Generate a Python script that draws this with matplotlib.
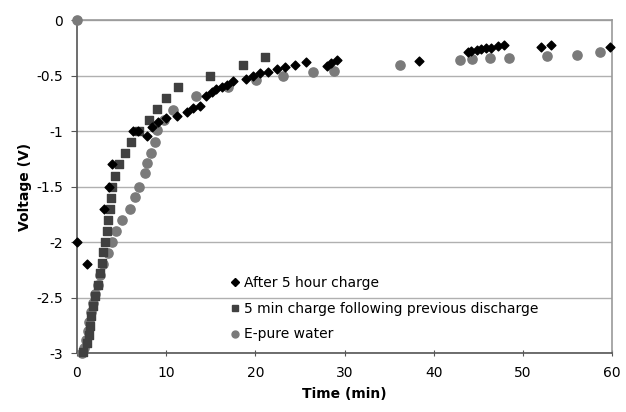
import matplotlib.pyplot as plt
from matplotlib.lines import Line2D

# After 5 hour charge (diamonds)
t_long = [0, 1.1, 3.0, 3.6, 3.95, 6.3, 6.8, 7.8, 8.4, 9.1, 10.0, 11.2, 12.3, 13.0,
          13.8, 14.5, 15.1, 15.6, 16.2, 16.8, 17.5, 19.0, 19.7, 20.5, 21.4, 22.4,
          23.3, 24.4, 25.7, 28.0, 28.5, 29.1, 38.3, 43.8, 44.2, 44.8, 45.3, 45.9,
          46.4, 47.2, 47.9, 52.0, 53.1, 59.7]
v_long = [-2.0, -2.2, -1.7, -1.5, -1.3, -1.0, -1.0, -1.04, -0.96, -0.92, -0.88, -0.86,
          -0.83, -0.79, -0.77, -0.68, -0.65, -0.62, -0.6, -0.58, -0.55, -0.53, -0.5,
          -0.48, -0.47, -0.44, -0.42, -0.4, -0.38, -0.41, -0.385, -0.36, -0.37, -0.29,
          -0.28, -0.27, -0.26, -0.255, -0.25, -0.23, -0.22, -0.24, -0.22, -0.24]

# 5 min charge following previous discharge (squares)
t_short = [0.7, 1.1, 1.3, 1.5, 1.6, 1.8, 2.0, 2.4, 2.6, 2.8, 2.95, 3.1, 3.4, 3.5, 3.7,
           3.8, 3.9, 4.3, 4.7, 5.4, 6.0, 6.9, 8.1, 9.0, 10.0, 11.3, 14.9, 18.6, 21.1]
v_short = [-2.99, -2.91, -2.84, -2.76, -2.67, -2.58, -2.49, -2.39, -2.28, -2.19, -2.09,
           -2.0, -1.9, -1.8, -1.7, -1.6, -1.5, -1.4, -1.3, -1.2, -1.1, -1.0, -0.9, -0.8,
           -0.7, -0.6, -0.5, -0.4, -0.33]

# E-pure water (circles)
t_water = [0, 0.6, 0.8, 1.0, 1.2, 1.4, 1.6, 1.8, 2.0, 2.3, 2.6, 2.95, 3.5, 3.9, 4.4,
           5.0, 5.9, 6.5, 7.0, 7.6, 7.9, 8.3, 8.7, 9.0, 9.7, 10.8, 13.3, 16.9, 20.1,
           23.1, 26.5, 28.8, 36.2, 42.9, 44.3, 46.3, 48.4, 52.7, 56.1, 58.6]
v_water = [0, -3.0, -2.95, -2.88, -2.8, -2.72, -2.63, -2.55, -2.47, -2.39, -2.3, -2.2,
           -2.1, -2.0, -1.9, -1.8, -1.7, -1.59, -1.5, -1.38, -1.29, -1.2, -1.1, -0.99,
           -0.9, -0.81, -0.68, -0.6, -0.54, -0.5, -0.47, -0.46, -0.405, -0.36, -0.35,
           -0.345, -0.345, -0.32, -0.31, -0.29]

labels = ["After 5 hour charge", "5 min charge following previous discharge", "E-pure water"]
x_ticks = [0, 10, 20, 30, 40, 50, 60]
y_ticks = [0, -0.5, -1, -1.5, -2, -2.5, -3]
y_tick_labels = ["0", "-0.5", "-1", "-1.5", "-2", "-2.5", "-3"]

fig = plt.figure(figsize=(6.26, 4.12), dpi=100)
ax = fig.add_axes([0.123, 0.143, 0.855, 0.808])

ax.scatter(t_water, v_water, marker="o", s=44, color="#7a7a7a", zorder=3, clip_on=False)
ax.scatter(t_short, v_short, marker="s", s=28, color="#404040", zorder=4, clip_on=False)
ax.scatter(t_long, v_long, marker="D", s=20, color="#000000", zorder=5, clip_on=False)

ax.set_xlim(0, 60)
ax.set_ylim(-3, 0)
ax.set_xticks(x_ticks)
ax.set_yticks(y_ticks)
ax.set_yticklabels(y_tick_labels)
ax.yaxis.grid(True, color="#b0b0b0", linewidth=1)
ax.set_axisbelow(True)

for side in ["left", "bottom"]:
    ax.spines[side].set_color("#555555")
    ax.spines[side].set_linewidth(1.2)
for side in ["top", "right"]:
    ax.spines[side].set_color("#999999")
    ax.spines[side].set_linewidth(1.2)

ax.tick_params(axis="y", direction="out", length=4, color="#555555", labelsize=10, pad=6)
ax.tick_params(axis="x", direction="inout", length=5, color="#555555", labelsize=10, pad=7)
ax.set_xlabel("Time (min)", fontsize=10, fontweight="bold", labelpad=5)
ax.set_ylabel("Voltage (V)", fontsize=10, fontweight="bold", labelpad=3)

handles = [
    Line2D([], [], marker="D", linestyle="", color="#000000", markersize=4),
    Line2D([], [], marker="s", linestyle="", color="#404040", markersize=5),
    Line2D([], [], marker="o", linestyle="", color="#7a7a7a", markersize=5),
]
leg = ax.legend(handles, labels, loc="lower left", bbox_to_anchor=(0.27, 0.01),
                frameon=False, fontsize=10, handletextpad=0.2, handlelength=0.8,
                labelspacing=0.85, borderaxespad=0.2)

fig.savefig("out.png", dpi=100)
